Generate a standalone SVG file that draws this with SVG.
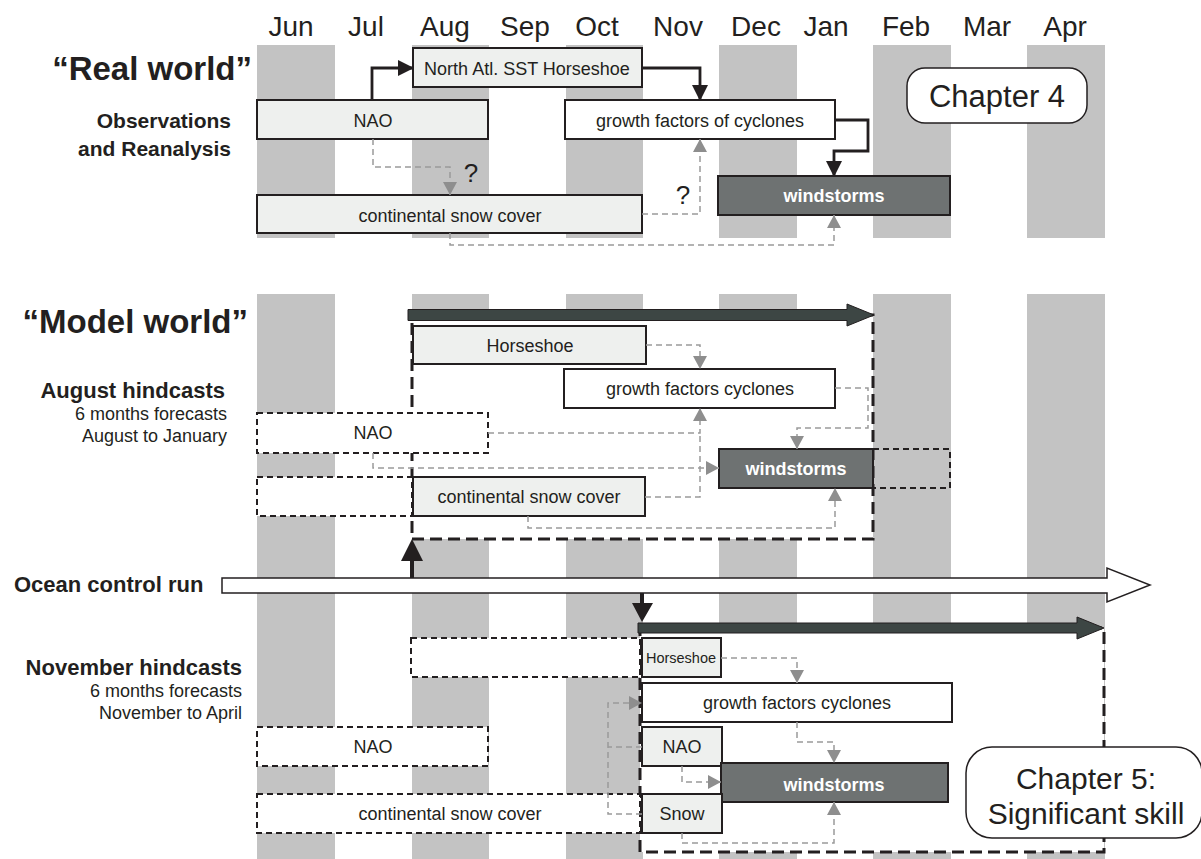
<svg xmlns="http://www.w3.org/2000/svg" width="1201" height="859" viewBox="0 0 1201 859">
<defs>
<style>
.col{fill:#c3c3c3}
.box{stroke:#231f20;stroke-width:2}
.light{fill:#eef0ee}
.white{fill:#ffffff}
.dark{fill:#6e7272}
.dbox{fill:#ffffff;stroke:#231f20;stroke-width:2;stroke-dasharray:6 4}
.dext{fill:none;stroke:#231f20;stroke-width:2;stroke-dasharray:6 4}
.region{fill:#ffffff;stroke:#231f20;stroke-width:3;stroke-dasharray:12 6}
.gconn{fill:none;stroke:#9a9a9a;stroke-width:1.5;stroke-dasharray:6 4;marker-end:url(#ga)}
.gline{fill:none;stroke:#9a9a9a;stroke-width:1.5;stroke-dasharray:6 4}
.bconn{fill:none;stroke:#231f20;stroke-width:2.8;marker-end:url(#ba)}
.bigarrow{fill:#3d4644;stroke:#231f20;stroke-width:1}
text{font-family:"Liberation Sans",Arial,sans-serif;fill:#231f20}
.t{font-size:18px;text-anchor:middle}
.w{font-size:18px;text-anchor:middle;font-weight:bold;fill:#ffffff}
.month{font-size:28px;text-anchor:middle}
.title{font-size:33px;font-weight:bold;text-anchor:end}
.sub{font-size:21px;font-weight:bold;text-anchor:end}
.sub2{font-size:22px;font-weight:bold;text-anchor:end}
.small{font-size:18px;text-anchor:end}
.q{font-size:26px;text-anchor:middle}
.chap{font-size:31px;text-anchor:middle}
.chap5{font-size:30px;text-anchor:middle}
.chapbox{fill:#ffffff;stroke:#231f20;stroke-width:1.5}
</style>
<marker id="ga" markerUnits="userSpaceOnUse" viewBox="0 0 13 14" markerWidth="13" markerHeight="14" refX="13" refY="7" orient="auto">
<path d="M0,0 L13,7 L0,14 Z" fill="#8e8e8e" stroke="none"/>
</marker>
<marker id="ba" markerUnits="userSpaceOnUse" viewBox="0 0 16 16" markerWidth="16" markerHeight="16" refX="15" refY="8" orient="auto">
<path d="M0,0 L16,8 L0,16 Z" fill="#231f20" stroke="none"/>
</marker>
</defs>

<g id="columns">
<rect class="col" x="257" y="45" width="78" height="193"/>
<rect class="col" x="412" y="45" width="77" height="193"/>
<rect class="col" x="566" y="45" width="77" height="193"/>
<rect class="col" x="719" y="45" width="78" height="193"/>
<rect class="col" x="873" y="45" width="78" height="193"/>
<rect class="col" x="1027" y="45" width="78" height="193"/>
<rect class="col" x="257" y="294" width="78" height="565"/>
<rect class="col" x="412" y="294" width="77" height="565"/>
<rect class="col" x="566" y="294" width="77" height="565"/>
<rect class="col" x="719" y="294" width="78" height="565"/>
<rect class="col" x="873" y="294" width="78" height="565"/>
<rect class="col" x="1027" y="294" width="78" height="565"/>
</g>

<g id="months">
<text class="month" x="291" y="36">Jun</text>
<text class="month" x="366" y="36">Jul</text>
<text class="month" x="445" y="36">Aug</text>
<text class="month" x="525" y="36">Sep</text>
<text class="month" x="597" y="36">Oct</text>
<text class="month" x="678" y="36">Nov</text>
<text class="month" x="756" y="36">Dec</text>
<text class="month" x="826" y="36">Jan</text>
<text class="month" x="906" y="36">Feb</text>
<text class="month" x="987" y="36">Mar</text>
<text class="month" x="1065" y="36">Apr</text>
</g>

<g id="labels">
<text class="title" x="252" y="80">“Real world”</text>
<text class="sub" x="231" y="128">Observations</text>
<text class="sub" x="231" y="156">and Reanalysis</text>
<text class="title" x="248" y="333">“Model world”</text>
<text class="sub2" x="225" y="398">August hindcasts</text>
<text class="small" x="227" y="420">6 months forecasts</text>
<text class="small" x="227" y="442">August to January</text>
<text class="sub2" x="14" y="592" style="text-anchor:start">Ocean control run</text>
<text class="sub2" x="242" y="675">November hindcasts</text>
<text class="small" x="242" y="697">6 months forecasts</text>
<text class="small" x="242" y="719">November to April</text>
</g>

<g id="aug-region">
<rect class="region" x="412" y="315" width="461" height="224"/>
<path class="bigarrow" d="M408,309.5 H847 V304 L874,315 L847,326 V320.5 H408 Z"/>
</g>
<g id="nov-region">
<rect class="region" x="640" y="628" width="464" height="224"/>
<path class="bigarrow" d="M638,623 H1077 V617 L1104,628 L1077,639 V633 H638 Z"/>
</g>

<g id="real-nao"><rect class="box light" x="257" y="100" width="231" height="39"/><text class="t" x="373" y="127">NAO</text></g>
<g id="real-horseshoe"><rect class="box light" x="413" y="48" width="229" height="39"/><text class="t" x="527" y="75">North Atl. SST Horseshoe</text></g>
<g id="real-growth"><rect class="box white" x="565" y="100" width="270" height="39"/><text class="t" x="700" y="127">growth factors of cyclones</text></g>
<g id="real-windstorms"><rect class="box dark" x="718" y="176" width="232" height="39"/><text class="w" x="834" y="202">windstorms</text></g>
<g id="real-snow"><rect class="box light" x="257" y="195" width="385" height="38"/><text class="t" x="450" y="222">continental snow cover</text></g>
<g id="q1"><text class="q" x="471" y="182">?</text></g>
<g id="q2"><text class="q" x="683" y="204">?</text></g>
<g id="chapter4"><rect class="chapbox" x="907" y="68" width="180" height="55" rx="18"/><text class="chap" x="997" y="107">Chapter 4</text></g>

<g id="aug-horseshoe"><rect class="box light" x="413" y="326" width="233" height="38"/><text class="t" x="530" y="352">Horseshoe</text></g>
<g id="aug-growth"><rect class="box white" x="564" y="369" width="271" height="39"/><text class="t" x="700" y="395">growth factors cyclones</text></g>
<g id="aug-nao"><rect class="dbox" x="257" y="413" width="231" height="40"/><text class="t" x="373" y="439">NAO</text></g>
<g id="aug-windstorms"><rect class="box dark" x="719" y="449" width="154" height="39"/><rect class="dext" x="873" y="449" width="77" height="39"/><text class="w" x="796" y="475">windstorms</text></g>
<g id="aug-snow"><rect class="dbox" x="257" y="477" width="155" height="39"/><rect class="box light" x="413" y="477" width="232" height="39"/><text class="t" x="529" y="503">continental snow cover</text></g>

<g id="nov-horseshoe"><rect class="dbox" x="411" y="638" width="229" height="39"/><rect class="box light" x="642" y="638" width="79" height="39"/><text class="t" x="681" y="663" style="font-size:14.5px">Horseshoe</text></g>
<g id="nov-growth"><rect class="box white" x="642" y="683" width="310" height="39"/><text class="t" x="797" y="709">growth factors cyclones</text></g>
<g id="nov-nao"><rect class="dbox" x="257" y="727" width="231" height="39"/><text class="t" x="373" y="753">NAO</text><rect class="box light" x="642" y="727" width="80" height="39"/><text class="t" x="682" y="753">NAO</text></g>
<g id="nov-windstorms"><rect class="box dark" x="721" y="763" width="227" height="39"/><text class="w" x="834" y="791">windstorms</text></g>
<g id="nov-snow"><rect class="dbox" x="257" y="794" width="383" height="39"/><text class="t" x="450" y="820">continental snow cover</text><rect class="box light" x="642" y="794" width="80" height="39"/><text class="t" x="682" y="820">Snow</text></g>

<g id="ocean-run">
<path d="M222,578 H1107 V568 L1150,585 L1107,602 V593 H222 Z" fill="#ffffff" stroke="#231f20" stroke-width="1.5"/>
</g>

<g id="connectors">
<path class="bconn" d="M372,100 V68 H413"/>
<path class="bconn" d="M642,68 H700 V100"/>
<path class="bconn" d="M835,120 H868 V151 H834 V176"/>
<path class="gconn" d="M373,139 V167 H450 V195"/>
<path class="gconn" d="M642,214 H700 V139"/>
<path class="gconn" d="M450,233 V245 H834 V215"/>
<path class="gconn" d="M646,345 H700 V369"/>
<path class="gconn" d="M835,388 H868 V428 H797 V449"/>
<path class="gconn" d="M488,433 H700 V408"/>
<path class="gline" d="M645,497 H700 V433"/>
<path class="gconn" d="M373,453 V468 H719"/>
<path class="gconn" d="M528,516 V528 H835 V488"/>
<path class="gconn" d="M721,658 H797 V683"/>
<path class="gconn" d="M797,722 V742 H834 V763"/>
<path class="gconn" d="M682,766 V782 H721"/>
<path class="gconn" d="M682,833 V843 H834 V802"/>
<path class="gconn" d="M642,814 H608 V703 H642"/>
<path class="gline" d="M642,747 H608"/>
<path d="M410,578 V561 H401 L412,539 L423,561 H414 V578 Z" fill="#231f20"/>
<path d="M640,593 V603 H632 L642,622 L653,603 H644 V593 Z" fill="#231f20"/>
</g>

<g id="chapter5"><rect class="chapbox" x="966" y="747" width="236" height="91" rx="26"/><text class="chap5" x="1086" y="789">Chapter 5:</text><text class="chap5" x="1086" y="824">Significant skill</text></g>
</svg>
